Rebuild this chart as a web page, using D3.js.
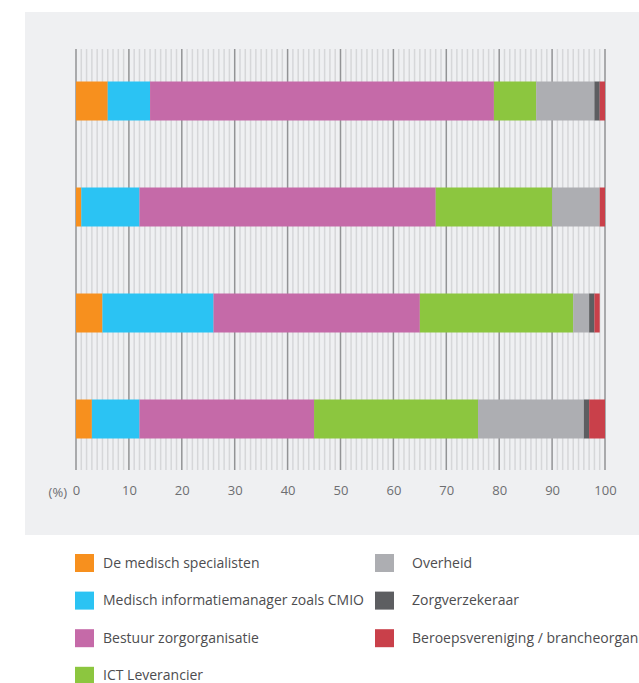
<!DOCTYPE html>
<html>
<head>
<meta charset="utf-8">
<script src="https://cdn.jsdelivr.net/npm/d3@7"></script>
<style>
  body { margin: 0; background: #ffffff; }
  svg { display: block; font-family: "Open Sans", sans-serif; }
</style>
</head>
<body>
<div id="my_dataviz"></div>
<script>
// rows from top to bottom (no labels shown in the chart)
const rows = ["r1", "r2", "r3", "r4"];

const series = [
  "De medisch specialisten",
  "Medisch informatiemanager zoals CMIO",
  "Bestuur zorgorganisatie",
  "ICT Leverancier",
  "Overheid",
  "Zorgverzekeraar",
  "Beroepsvereniging / brancheorganisatie"
];
const colors = ["#f7901e", "#2bc3f3", "#c56aa8", "#8cc63f", "#adaeb2", "#5d5e61", "#c9404a"];

// values per series, one per row (%)
const specialisten = [6, 1, 5, 3];
const cmio         = [8, 11, 21, 9];
const bestuur      = [65, 56, 39, 33];
const ictLev       = [8, 22, 29, 31];
const overheid     = [11, 9, 3, 20];
const verzekeraar  = [1, 0, 1, 1];
const beroeps      = [1, 1, 1, 3];

const xTicks = [0, 10, 20, 30, 40, 50, 60, 70, 80, 90, 100];

const values = [specialisten, cmio, bestuur, ictLev, overheid, verzekeraar, beroeps];
const table = rows.map((r, i) => {
  const o = { row: r };
  series.forEach((s, j) => { o[s] = values[j][i]; });
  return o;
});

const W = 639, H = 683;
const svg = d3.select("#my_dataviz").append("svg")
  .attr("width", W).attr("height", H);

// grey panel
svg.append("rect")
  .attr("x", 25).attr("y", 12)
  .attr("width", W - 25).attr("height", 523)
  .attr("fill", "#eff0f2");

const x = d3.scaleLinear().domain([0, 100]).range([76, 605]);
const y = d3.scaleBand().domain(rows).range([48, 472]);
const gridTop = 49, gridBottom = 470;

// minor grid
svg.append("g").selectAll("line")
  .data(d3.range(0, 101).filter(d => d % 10 !== 0))
  .join("line")
  .attr("x1", d => x(d)).attr("x2", d => x(d))
  .attr("y1", gridTop).attr("y2", gridBottom)
  .attr("stroke", "#d6d7d9")
  .attr("stroke-width", 1.5);

// major grid
svg.append("g").selectAll("line")
  .data(xTicks)
  .join("line")
  .attr("x1", d => x(d)).attr("x2", d => x(d))
  .attr("y1", gridTop).attr("y2", gridBottom)
  .attr("stroke", "#929395")
  .attr("stroke-width", 1.5);

// stacked bars
const stacked = d3.stack().keys(series)(table);
const barH = 39;
svg.append("g").selectAll("g")
  .data(stacked)
  .join("g")
  .attr("fill", (d, i) => colors[i])
  .selectAll("rect")
  .data(d => d)
  .join("rect")
  .attr("x", d => x(d[0]))
  .attr("y", d => y(d.data.row) + y.bandwidth() / 2 - barH / 2)
  .attr("width", d => x(d[1]) - x(d[0]))
  .attr("height", barH);

// axis labels
const axis = svg.append("g")
  .attr("transform", "translate(0,470)")
  .call(d3.axisBottom(x).tickValues(xTicks).tickSize(0).tickPadding(16));
axis.select(".domain").remove();
axis.selectAll("text")
  .attr("fill", "#6d6e71")
  .style("font-size", "13px")
  .style("font-family", "'Open Sans', sans-serif");

svg.append("text")
  .attr("x", 67).attr("y", 497)
  .attr("text-anchor", "end")
  .attr("fill", "#6d6e71")
  .style("font-size", "13px")
  .text("(%)");

// legend
const legend = svg.append("g").selectAll("g")
  .data(series)
  .join("g")
  .attr("transform", (d, i) => {
    const col = i < 4 ? 0 : 1;
    const r = i < 4 ? i : i - 4;
    return "translate(" + (col ? 375 : 75) + "," + (554 + r * 37.6) + ")";
  });
legend.append("rect")
  .attr("width", 19).attr("height", 18)
  .attr("fill", (d, i) => colors[i]);
legend.append("text")
  .attr("x", (d, i) => i < 4 ? 28 : 37)
  .attr("y", 13.5)
  .attr("fill", "#4d4d4f")
  .style("font-size", "14px")
  .text(d => d);
</script>
</body>
</html>
